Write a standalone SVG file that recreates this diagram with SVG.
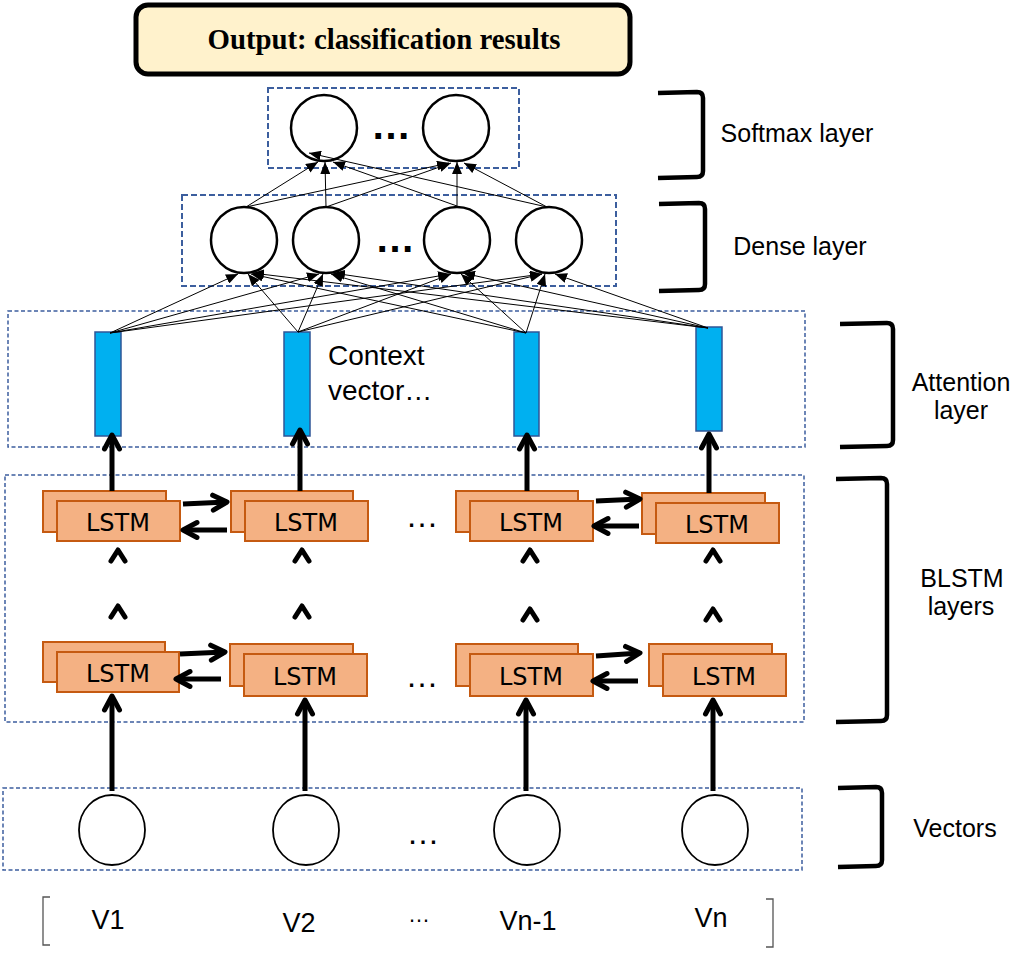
<svg xmlns="http://www.w3.org/2000/svg" width="1029" height="954" viewBox="0 0 1029 954">
<style>
.bg{fill:#fff}
.dbox{fill:none;stroke:#3C5E9E;stroke-width:2;stroke-dasharray:6 3}
.dbox2{fill:none;stroke:#3C5E9E;stroke-width:1.5;stroke-dasharray:4 2.5}
.node{fill:#fff;stroke:#000;stroke-width:2.5}
.vec{fill:#fff;stroke:#000;stroke-width:1.8}
.bar{fill:#00B0F0;stroke:#2F5597;stroke-width:1.5}
.lstm{fill:#F4B183;stroke:#C55A11;stroke-width:2}
.thin{stroke:#000;stroke-width:1;fill:none;marker-end:url(#tri)}
.thick{stroke:#000;stroke-width:5;fill:none;marker-end:url(#chev)}
.caret{stroke:#000;stroke-width:5;fill:none;stroke-linecap:round;stroke-linejoin:round}
.brk{stroke:#000;stroke-width:4.5;fill:none}
.sq{stroke:#555;stroke-width:1.3;fill:none}
.lbl{font-family:"Liberation Sans",Arial,sans-serif;font-size:25px;text-anchor:middle;fill:#000}
.lt{font-family:"DejaVu Sans",Verdana,sans-serif;font-size:24px;text-anchor:middle;fill:#000}
.dots{font-family:"Liberation Sans",Arial,sans-serif;font-size:33px;text-anchor:middle;fill:#000}
.bdots{font-family:"Liberation Sans",Arial,sans-serif;font-size:40px;font-weight:bold;text-anchor:middle;fill:#000}
.out{font-family:"Liberation Serif","Times New Roman",serif;font-size:29px;font-weight:bold;text-anchor:middle;fill:#000}
</style>
<defs>
<marker id="tri" viewBox="0 0 12 10" markerWidth="12" markerHeight="10" refX="12" refY="5" orient="auto" markerUnits="userSpaceOnUse">
<path d="M0,0 L12,5 L0,10 z" fill="#000"/>
</marker>
<marker id="chev" viewBox="0 0 30 30" markerWidth="30" markerHeight="30" refX="22" refY="15" orient="auto" markerUnits="userSpaceOnUse" overflow="visible">
<path d="M8,7.5 L22,15 L8,22.5" fill="none" stroke="#000" stroke-width="5" stroke-linecap="round" stroke-linejoin="round"/>
</marker>
</defs>
<rect class="bg" x="0" y="0" width="1029" height="954"/>

<g id="output">
<rect x="136" y="5" width="494" height="69" rx="12" fill="#FFF2CC" stroke="#000" stroke-width="5"/>
<text class="out" x="384" y="49" textLength="353" lengthAdjust="spacingAndGlyphs">Output: classification results</text>
</g>

<g id="softmax-layer">
<rect class="dbox" x="268" y="88" width="251" height="80"/>
<circle class="node" cx="324" cy="128" r="33"/>
<circle class="node" cx="456" cy="128" r="33"/>
<text class="bdots" x="391" y="139">…</text>
</g>

<g id="dense-layer">
<rect class="dbox" x="182" y="195" width="434" height="91"/>
<circle class="node" cx="244" cy="240" r="33"/>
<circle class="node" cx="326" cy="240" r="33"/>
<circle class="node" cx="457" cy="240" r="33"/>
<circle class="node" cx="549" cy="240" r="33"/>
<text class="bdots" x="395" y="252">…</text>
</g>

<g id="attention-layer">
<rect class="dbox2" x="8" y="311" width="797" height="136"/>
<rect class="bar" x="95" y="332" width="26" height="104"/>
<rect class="bar" x="284" y="332" width="26" height="104"/>
<rect class="bar" x="514" y="332" width="25" height="104"/>
<rect class="bar" x="696" y="327" width="26" height="104"/>
<text class="lbl" x="328" y="365" style="text-anchor:start;font-size:28px">Context</text>
<text class="lbl" x="328" y="400" style="text-anchor:start;font-size:28px">vector…</text>
</g>

<g id="blstm-layers">
<rect class="dbox2" x="5" y="475" width="799" height="247"/>
<rect class="lstm" x="43" y="491" width="123" height="41"/>
<rect class="lstm" x="57" y="501" width="123" height="40"/>
<text class="lt" x="118" y="531">LSTM</text>
<rect class="lstm" x="231" y="491" width="122" height="41"/>
<rect class="lstm" x="245" y="501" width="123" height="40"/>
<text class="lt" x="306" y="531">LSTM</text>
<rect class="lstm" x="456" y="491" width="122" height="41"/>
<rect class="lstm" x="470" y="501" width="123" height="40"/>
<text class="lt" x="531" y="531">LSTM</text>
<rect class="lstm" x="642" y="493" width="123" height="41"/>
<rect class="lstm" x="656" y="503" width="123" height="40"/>
<text class="lt" x="717" y="533">LSTM</text>
<text class="dots" x="422" y="527">…</text>

<rect class="lstm" x="43" y="642" width="122" height="40"/>
<rect class="lstm" x="57" y="652" width="122" height="40"/>
<text class="lt" x="118" y="682">LSTM</text>
<rect class="lstm" x="230" y="644" width="123" height="42"/>
<rect class="lstm" x="244" y="654" width="123" height="42"/>
<text class="lt" x="305" y="685">LSTM</text>
<rect class="lstm" x="456" y="644" width="122" height="42"/>
<rect class="lstm" x="470" y="654" width="123" height="42"/>
<text class="lt" x="531" y="685">LSTM</text>
<rect class="lstm" x="649" y="644" width="123" height="42"/>
<rect class="lstm" x="663" y="654" width="123" height="42"/>
<text class="lt" x="724" y="685">LSTM</text>
<text class="dots" x="422" y="687">…</text>
</g>

<g id="vectors">
<rect class="dbox2" x="3" y="788" width="799" height="82"/>
<ellipse class="vec" cx="112" cy="830" rx="33" ry="35"/>
<ellipse class="vec" cx="306" cy="830" rx="33" ry="35"/>
<ellipse class="vec" cx="527" cy="830" rx="33" ry="35"/>
<ellipse class="vec" cx="715" cy="830" rx="33" ry="35"/>
<text class="dots" x="423" y="844">…</text>
</g>

<g id="inputs">
<path class="sq" d="M50,897 L43,897 L43,945 L50,945"/>
<path class="sq" d="M766,899 L773,899 L773,947 L766,947"/>
<text class="lbl" x="108" y="929" style="font-size:27px">V1</text>
<text class="lbl" x="299" y="932" style="font-size:27px">V2</text>
<text class="lbl" x="419" y="922" style="font-size:22px">…</text>
<text class="lbl" x="528" y="930" style="font-size:27px">Vn-1</text>
<text class="lbl" x="711" y="927" style="font-size:27px">Vn</text>
</g>

<g id="layer-labels">
<path class="brk" d="M658,93 L697,92 Q703,92 703,98 L703,171 Q703,177 697,177 L658,178"/>
<text class="lbl" x="797" y="142">Softmax layer</text>
<path class="brk" d="M659,204 L699,203 Q705,203 705,209 L705,284 Q705,290 699,290 L659,291"/>
<text class="lbl" x="800" y="255">Dense layer</text>
<path class="brk" d="M840,324 L887,323 Q893,323 893,329 L893,440 Q893,446 887,446 L840,447"/>
<text class="lbl" x="961" y="391">Attention</text>
<text class="lbl" x="961" y="419">layer</text>
<path class="brk" d="M836,479 L881,478 Q887,478 887,484 L887,715 Q887,721 881,721 L836,722"/>
<text class="lbl" x="962" y="587">BLSTM</text>
<text class="lbl" x="961" y="615">layers</text>
<path class="brk" d="M838,788 L876,787 Q882,787 882,793 L882,860 Q882,866 876,866 L838,867"/>
<text class="lbl" x="955" y="837">Vectors</text>
</g>

<g id="connectors">
<path class="thin" d="M246,207 L318,162"/>
<path class="thin" d="M246,207 L449,163"/>
<path class="thin" d="M326,207 L325,162"/>
<path class="thin" d="M326,207 L451,163"/>
<path class="thin" d="M457,206 L333,162"/>
<path class="thin" d="M457,206 L457,162"/>
<path class="thin" d="M547,207 L309,153"/>
<path class="thin" d="M547,207 L464,163"/>
<path class="thin" d="M110,333 L238,274"/>
<path class="thin" d="M110,333 L319,274"/>
<path class="thin" d="M110,333 L450,274"/>
<path class="thin" d="M110,333 L542,274"/>
<path class="thin" d="M298,332 L248,274"/>
<path class="thin" d="M298,332 L323,274"/>
<path class="thin" d="M298,332 L451,274"/>
<path class="thin" d="M298,332 L542,274"/>
<path class="thin" d="M526,333 L251,274"/>
<path class="thin" d="M526,333 L331,274"/>
<path class="thin" d="M526,333 L461,274"/>
<path class="thin" d="M526,333 L545,274"/>
<path class="thin" d="M708,328 L252,273"/>
<path class="thin" d="M708,328 L333,273"/>
<path class="thin" d="M708,328 L463,273"/>
<path class="thin" d="M708,328 L555,274"/>
<path class="thick" d="M112,491 L112,435"/>
<path class="thick" d="M300,491 L300,430"/>
<path class="thick" d="M527,491 L527,435"/>
<path class="thick" d="M709,493 L709,434"/>
<path class="thick" d="M112,791 L112,696"/>
<path class="thick" d="M305,791 L305,700"/>
<path class="thick" d="M526,791 L526,700"/>
<path class="thick" d="M713,791 L713,700"/>
<path class="thick" d="M183,504 L227,502"/>
<path class="thick" d="M227,530 L183,530"/>
<path class="thick" d="M180,654 L225,652"/>
<path class="thick" d="M221,679 L176,679"/>
<path class="thick" d="M596,501 L640,499"/>
<path class="thick" d="M639,526 L594,526"/>
<path class="thick" d="M596,656 L640,653"/>
<path class="thick" d="M638,681 L593,681"/>
<polyline class="caret" points="111,561 118,550 125,561"/>
<polyline class="caret" points="111,617 118,606 125,617"/>
<polyline class="caret" points="295,561 302,550 309,561"/>
<polyline class="caret" points="295,617 302,606 309,617"/>
<polyline class="caret" points="523,561 530,550 537,561"/>
<polyline class="caret" points="523,620 530,609 537,620"/>
<polyline class="caret" points="706,561 713,550 720,561"/>
<polyline class="caret" points="706,620 713,609 720,620"/>
</g>
</svg>
